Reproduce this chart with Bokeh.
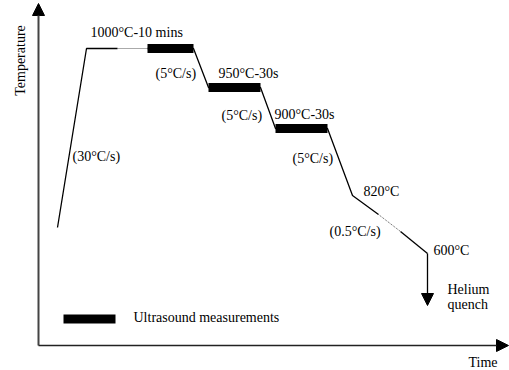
import numpy as np
from bokeh.plotting import figure
from bokeh.models import Range1d, Arrow, NormalHead, Label
from bokeh.embed import file_html
from bokeh.resources import INLINE

# Schematic heat-treatment cycle (time and temperature in diagram units)
profile_time = [19, 48, 79, 109, 155, 170, 222, 237, 289, 314, 340, 362, 389]
profile_level = [118, 297, 297, 297, 297, 258, 258, 217, 217, 150, 131, 114, 92]
dotted_spans = [(2, 3), (10, 11)]          # vertex index ranges drawn dotted

# Isothermal holds where ultrasound is recorded
hold_start = [109, 170, 237]
hold_end = [155, 222, 289]
hold_level = [297, 258, 217]

quench_level = 40                          # end of the helium quench arrow

# Annotations
label_text = ["1000°C-10 mins", "(5°C/s)", "950°C-30s", "(5°C/s)", "900°C-30s",
              "(5°C/s)", "(30°C/s)", "820°C", "(0.5°C/s)", "600°C", "Helium", "quench",
              "Ultrasound measurements", "Time"]
label_time = [52, 117, 180, 183, 236, 254, 34, 325, 291, 395, 409, 409, 95, 430]
label_level = [313, 272, 272, 230, 231, 187, 189, 154, 114, 95, 56, 41, 28, -17]

FONT = "Liberation Serif"

p = figure(width=509, height=370, output_backend="svg", toolbar_location=None,
           x_range=Range1d(-38, 471), y_range=Range1d(-25, 345),
           min_border=0, outline_line_color=None)
p.axis.visible = False
p.grid.visible = False

# split the profile into solid and dotted pieces
solid_xs, solid_ys, dot_xs, dot_ys = [], [], [], []
start = 0
for a, b in sorted(dotted_spans):
    solid_xs.append(profile_time[start:a + 1]); solid_ys.append(profile_level[start:a + 1])
    dot_xs.append(profile_time[a:b + 1]); dot_ys.append(profile_level[a:b + 1])
    start = b
solid_xs.append(profile_time[start:]); solid_ys.append(profile_level[start:])

p.multi_line(solid_xs, solid_ys, line_color="black", line_width=1.3)
p.multi_line(dot_xs, dot_ys, line_color="#555555", line_width=1, line_dash="1 1")

# holds and the legend swatch
p.segment(hold_start + [25], hold_level + [26.5], hold_end + [77], hold_level + [26.5],
          line_color="black", line_width=9, line_cap="butt")

# helium quench
p.add_layout(Arrow(end=NormalHead(size=12, fill_color="black", line_color="black"),
                   x_start=profile_time[-1], y_start=profile_level[-1],
                   x_end=profile_time[-1], y_end=quench_level,
                   line_color="black", line_width=1.3))

# axes drawn as arrows
p.add_layout(Arrow(end=NormalHead(size=12, fill_color="black", line_color="black"),
                   x_start=0, y_start=0, x_end=0, y_end=342,
                   line_color="#444444", line_width=2))
p.add_layout(Arrow(end=NormalHead(size=12, fill_color="black", line_color="black"),
                   x_start=0, y_start=0, x_end=470, y_end=0,
                   line_color="#222222", line_width=1.5))

for txt, t, lv in zip(label_text, label_time, label_level):
    p.add_layout(Label(x=t, y=lv, text=txt, text_font=FONT, text_font_size="14px",
                       text_baseline="middle", text_color="black"))

p.add_layout(Label(x=-18, y=285, text="Temperature", text_font=FONT, text_font_size="14px",
                   text_baseline="middle", text_align="center", angle=np.pi / 2,
                   text_color="black"))

open("out.html", "w").write(file_html(p, INLINE))
